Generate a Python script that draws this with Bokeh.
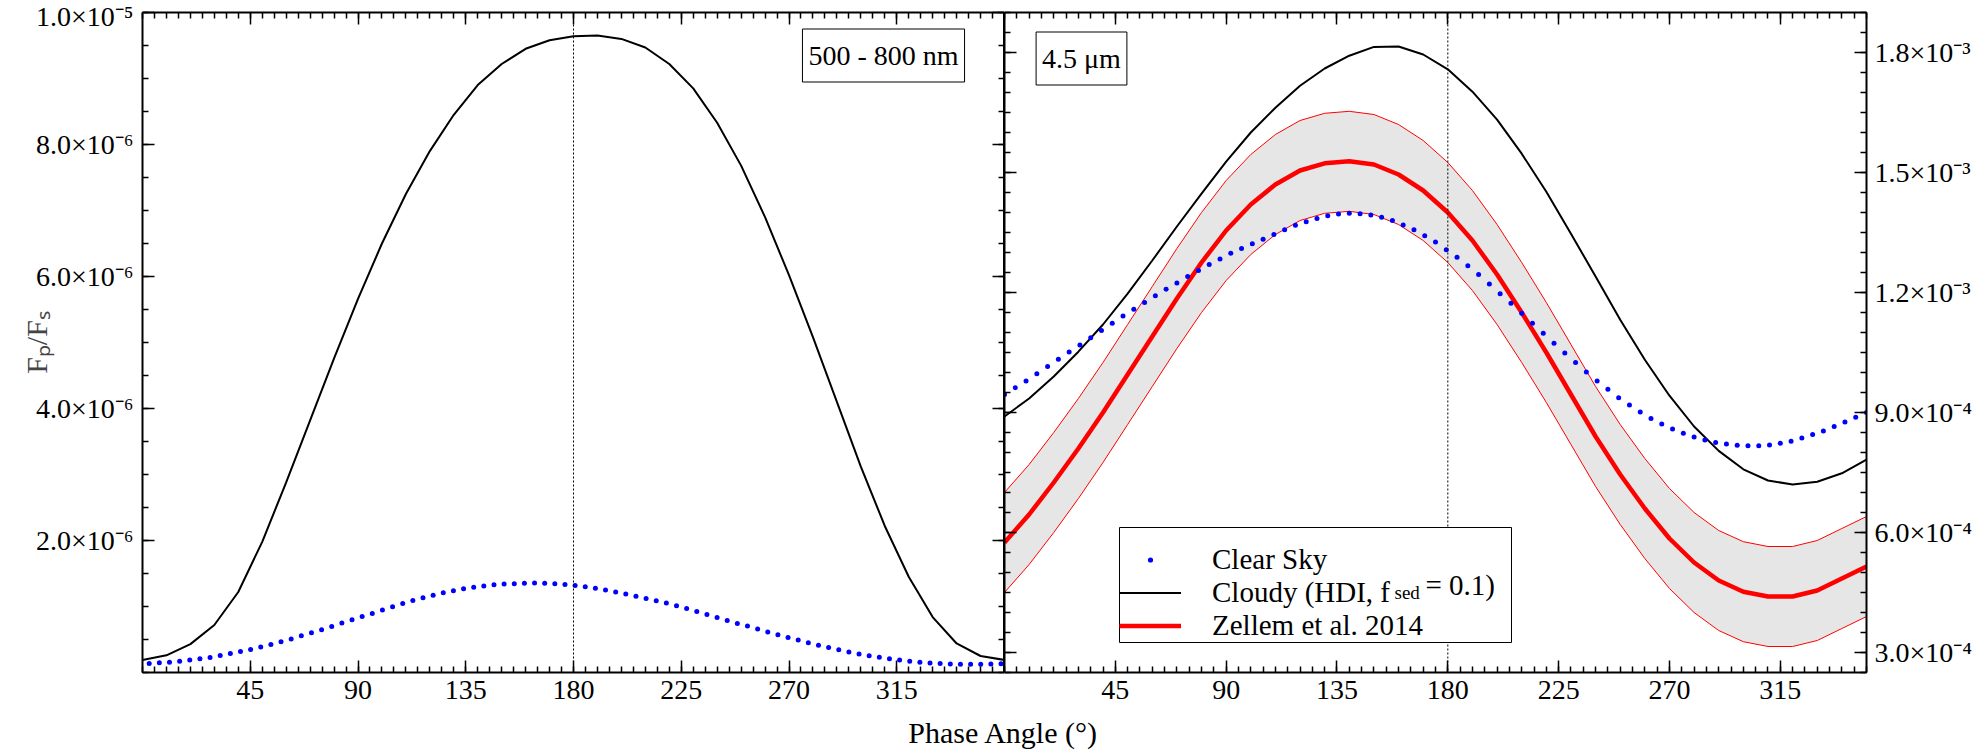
import numpy as np
from bokeh.plotting import figure
from bokeh.models import (Range1d, LinearAxis, FixedTicker, Span, Label,
                          Legend, LegendItem, BoxAnnotation)
from bokeh.layouts import column, row
from bokeh.embed import file_html
from bokeh.resources import INLINE

SERIF = "Liberation Serif"

# ---------------- 500 - 800 nm panel (F_p/F_s in units of 1e-6) ----------------
vis_phase = list(range(0, 361, 10))
vis_cloudy = [0.19, 0.26, 0.43, 0.72, 1.22, 1.98, 2.88, 3.82, 4.76, 5.66,
              6.50, 7.25, 7.90, 8.45, 8.90, 9.22, 9.45, 9.58, 9.64, 9.65,
              9.60, 9.47, 9.22, 8.85, 8.33, 7.68, 6.90, 6.02, 5.08, 4.10,
              3.12, 2.22, 1.45, 0.84, 0.44, 0.25, 0.19]

vis_clear_phase = np.round(2.8 + 4.235 * np.arange(85), 3)
vis_clear = [0.137, 0.147, 0.157, 0.172, 0.188, 0.208, 0.228, 0.258, 0.289, 0.319,
             0.349, 0.385, 0.425, 0.466, 0.506, 0.557, 0.602, 0.648, 0.698, 0.749,
             0.799, 0.850, 0.895, 0.946, 0.996, 1.044, 1.090, 1.133, 1.172, 1.208,
             1.240, 1.268, 1.292, 1.312, 1.328, 1.340, 1.345, 1.352, 1.355, 1.352,
             1.345, 1.334, 1.318, 1.298, 1.275, 1.249, 1.220, 1.190, 1.157, 1.123,
             1.087, 1.052, 1.011, 0.971, 0.925, 0.880, 0.834, 0.789, 0.743, 0.703,
             0.658, 0.613, 0.572, 0.531, 0.491, 0.452, 0.414, 0.378, 0.344, 0.312,
             0.282, 0.255, 0.230, 0.208, 0.188, 0.171, 0.156, 0.144, 0.135, 0.129,
             0.125, 0.124, 0.125, 0.128, 0.132]

# ---------------- 4.5 micron panel (F_p/F_s in units of 1e-4) ----------------
ir_phase = list(range(0, 351, 10))
ir_cloudy = [8.90, 9.35, 9.90, 10.52, 11.20, 11.97, 12.80, 13.65, 14.47, 15.27,
             16.00, 16.62, 17.17, 17.60, 17.92, 18.14, 18.15, 17.95, 17.58, 17.02,
             16.32, 15.47, 14.52, 13.47, 12.40, 11.32, 10.32, 9.42, 8.65, 8.04,
             7.58, 7.30, 7.20, 7.27, 7.48, 7.82]
ir_zellem = [5.75, 6.45, 7.25, 8.10, 9.00, 9.95, 10.90, 11.85, 12.75, 13.55,
             14.20, 14.70, 15.05, 15.23, 15.28, 15.20, 14.95, 14.55, 14.00, 13.30,
             12.45, 11.50, 10.50, 9.45, 8.40, 7.45, 6.60, 5.85, 5.25, 4.80,
             4.52, 4.40, 4.40, 4.55, 4.85, 5.15]
ir_zellem_hi = [7.00, 7.70, 8.50, 9.35, 10.25, 11.20, 12.15, 13.10, 14.00, 14.80,
                15.45, 15.95, 16.30, 16.48, 16.53, 16.45, 16.20, 15.80, 15.25, 14.55,
                13.70, 12.75, 11.75, 10.70, 9.65, 8.70, 7.85, 7.10, 6.50, 6.05,
                5.77, 5.65, 5.65, 5.80, 6.10, 6.40]
ir_zellem_lo = [4.50, 5.20, 6.00, 6.85, 7.75, 8.70, 9.65, 10.60, 11.50, 12.30,
                12.95, 13.45, 13.80, 13.98, 14.03, 13.95, 13.70, 13.30, 12.75, 12.05,
                11.20, 10.25, 9.25, 8.20, 7.15, 6.20, 5.35, 4.60, 4.00, 3.55,
                3.27, 3.15, 3.15, 3.30, 3.60, 3.90]

ir_clear_phase = np.linspace(0, 350, 81)
ir_clear = [9.45, 9.62, 9.79, 9.97, 10.15, 10.33, 10.51, 10.69, 10.87, 11.05,
            11.23, 11.41, 11.58, 11.75, 11.92, 12.08, 12.24, 12.40, 12.55, 12.70,
            12.84, 12.98, 13.10, 13.22, 13.33, 13.45, 13.57, 13.68, 13.77, 13.85,
            13.92, 13.96, 13.98, 13.97, 13.94, 13.88, 13.80, 13.69, 13.57, 13.42,
            13.26, 13.07, 12.88, 12.67, 12.45, 12.21, 11.97, 11.73, 11.48, 11.23,
            10.98, 10.73, 10.49, 10.25, 10.01, 9.79, 9.58, 9.37, 9.19, 9.01,
            8.85, 8.71, 8.59, 8.48, 8.39, 8.31, 8.25, 8.21, 8.18, 8.17,
            8.17, 8.19, 8.23, 8.28, 8.36, 8.45, 8.54, 8.65, 8.76, 8.88, 9.00]

# ---------------- ticks ----------------
x_major = [45, 90, 135, 180, 225, 270, 315]
x_minor = list(range(0, 361, 5))
vis_y_major = [2e-6, 4e-6, 6e-6, 8e-6, 1e-5]
vis_y_labels = ["2.0×10⁻⁶", "4.0×10⁻⁶", "6.0×10⁻⁶", "8.0×10⁻⁶", "1.0×10⁻⁵"]
vis_y_minor = [k * 5e-7 for k in range(21)]
ir_y_major = [3e-4, 6e-4, 9e-4, 1.2e-3, 1.5e-3, 1.8e-3]
ir_y_labels = ["3.0×10⁻⁴", "6.0×10⁻⁴", "9.0×10⁻⁴", "1.2×10⁻³", "1.5×10⁻³", "1.8×10⁻³"]
ir_y_minor = [2.5e-4 + k * 5e-5 for k in range(34)]


def make_axis(ticks, minor, labels=None, show_labels=True, standoff=8):
    ax = LinearAxis(ticker=FixedTicker(ticks=ticks, minor_ticks=minor))
    ax.axis_line_color = "black"
    ax.axis_line_width = 2
    ax.major_tick_line_color = "black"
    ax.major_tick_line_width = 1.5
    ax.minor_tick_line_color = "black"
    ax.minor_tick_line_width = 1.5
    ax.major_tick_in = 12
    ax.major_tick_out = 0
    ax.minor_tick_in = 6
    ax.minor_tick_out = 0
    ax.major_label_text_font = SERIF
    ax.major_label_text_font_size = "28px"
    ax.major_label_text_color = "black"
    ax.major_label_standoff = standoff
    if labels is not None:
        ax.major_label_overrides = dict(zip(ticks, labels))
    if not show_labels:
        # tick marks only on this side
        ax.major_label_text_color = None
        ax.major_label_text_font_size = "0px"
        ax.major_label_standoff = 0
    return ax


def base_figure(width, x_end, y_start, y_end, border_left, border_right):
    p = figure(width=width, height=712,
               x_range=Range1d(0, x_end), y_range=Range1d(y_start, y_end),
               x_axis_location=None, y_axis_location=None,
               output_backend="svg", toolbar_location=None,
               min_border_left=border_left, min_border_right=border_right,
               min_border_top=12, min_border_bottom=40)
    p.xgrid.grid_line_color = None
    p.ygrid.grid_line_color = None
    p.outline_line_color = "black"
    p.background_fill_color = "white"
    p.border_fill_color = "white"
    return p


def box_label(text, x, y):
    return Label(x=x, y=y, x_units="screen", y_units="screen", text=text,
                 text_align="center", text_baseline="middle",
                 text_font=SERIF, text_font_size="28px", text_color="black",
                 border_line_color="black", border_line_width=1,
                 background_fill_color="white", padding=(6, 11))


# ---------------- left panel ----------------
p1 = base_figure(1004, 360, 0, 1e-5, 142, 0)
p1.add_layout(make_axis(x_major, x_minor), "below")
p1.add_layout(make_axis(x_major, x_minor, show_labels=False), "above")
left_ax = make_axis(vis_y_major, vis_y_minor, vis_y_labels, standoff=9)
left_ax.axis_label = "Fₚ/Fₛ"
left_ax.axis_label_text_font = SERIF
left_ax.axis_label_text_font_size = "30px"
left_ax.axis_label_text_font_style = "normal"
left_ax.axis_label_standoff = -20
p1.add_layout(left_ax, "left")
p1.add_layout(make_axis(vis_y_major, vis_y_minor, show_labels=False), "right")

p1.add_layout(Span(location=180, dimension="height", line_color="black",
                   line_width=1, line_dash="2 2"))
p1.line(vis_phase, np.array(vis_cloudy) * 1e-6, line_color="black", line_width=2)
p1.scatter(vis_clear_phase, np.array(vis_clear) * 1e-6, size=5,
           fill_color="blue", line_color=None)
p1.add_layout(box_label("500 - 800 nm", 741, 617))

# ---------------- right panel ----------------
p2 = base_figure(975, 350, 2.5e-4, 1.9e-3, 0, 113)
p2.add_layout(make_axis(x_major, x_minor), "below")
p2.add_layout(make_axis(x_major, x_minor, show_labels=False), "above")
p2.add_layout(make_axis(ir_y_major, ir_y_minor, show_labels=False), "left")
p2.add_layout(make_axis(ir_y_major, ir_y_minor, ir_y_labels, standoff=8), "right")

p2.add_layout(Span(location=180, dimension="height", line_color="black",
                   line_width=1, line_dash="2 2"))
p2.varea(x=ir_phase, y1=np.array(ir_zellem_lo) * 1e-4,
         y2=np.array(ir_zellem_hi) * 1e-4, fill_color="#e6e6e6")
p2.line(ir_phase, np.array(ir_zellem_hi) * 1e-4, line_color="red", line_width=1)
p2.line(ir_phase, np.array(ir_zellem_lo) * 1e-4, line_color="red", line_width=1)
r_red = p2.line(ir_phase, np.array(ir_zellem) * 1e-4, line_color="red", line_width=4.5)
r_black = p2.line(ir_phase, np.array(ir_cloudy) * 1e-4, line_color="black", line_width=2)
r_blue = p2.scatter(ir_clear_phase, np.array(ir_clear) * 1e-4, size=5,
                    fill_color="blue", line_color=None)
p2.add_layout(box_label("4.5 μm", 77, 614))

# legend frame (white box), then the legend entries on top of it
p2.add_layout(BoxAnnotation(left=115, right=507, bottom=30, top=145,
                            left_units="screen", right_units="screen",
                            bottom_units="screen", top_units="screen",
                            fill_color="white", fill_alpha=1.0,
                            line_color="black", line_width=1, line_alpha=1.0))
legend = Legend(items=[LegendItem(label="Clear Sky", renderers=[r_blue]),
                       LegendItem(label="Cloudy (HDI, f", renderers=[r_black]),
                       LegendItem(label="Zellem et al. 2014", renderers=[r_red])],
                location=(115, 30), orientation="vertical",
                border_line_color=None, background_fill_alpha=0.0,
                label_text_font=SERIF, label_text_font_size="29px",
                label_text_color="black",
                glyph_width=62, glyph_height=13, label_height=33,
                label_standoff=31, label_width=200, padding=8, spacing=0,
                margin=0)
p2.add_layout(legend)
# remainder of the "Cloudy" legend entry: subscripted "sed" and the value
p2.add_layout(Label(x=390, y=80, x_units="screen", y_units="screen", text="sed",
                    text_font=SERIF, text_font_size="19px", text_color="black",
                    text_align="left", text_baseline="middle"))
p2.add_layout(Label(x=421, y=88, x_units="screen", y_units="screen", text="= 0.1)",
                    text_font=SERIF, text_font_size="29px", text_color="black",
                    text_align="left", text_baseline="middle"))

# ---------------- shared x-axis title ----------------
p3 = figure(width=1979, height=40, x_range=Range1d(0, 1979), y_range=Range1d(0, 40),
            x_axis_location=None, y_axis_location=None,
            output_backend="svg", toolbar_location=None,
            min_border_left=0, min_border_right=0, min_border_top=0, min_border_bottom=0)
p3.xgrid.grid_line_color = None
p3.ygrid.grid_line_color = None
p3.outline_line_color = None
p3.add_layout(Label(x=1003, y=20, text="Phase Angle (°)", text_font=SERIF,
                    text_font_size="30px", text_color="black",
                    text_align="center", text_baseline="middle"))

layout = column(row(p1, p2), p3)
open("out.html", "w").write(file_html(layout, INLINE))
